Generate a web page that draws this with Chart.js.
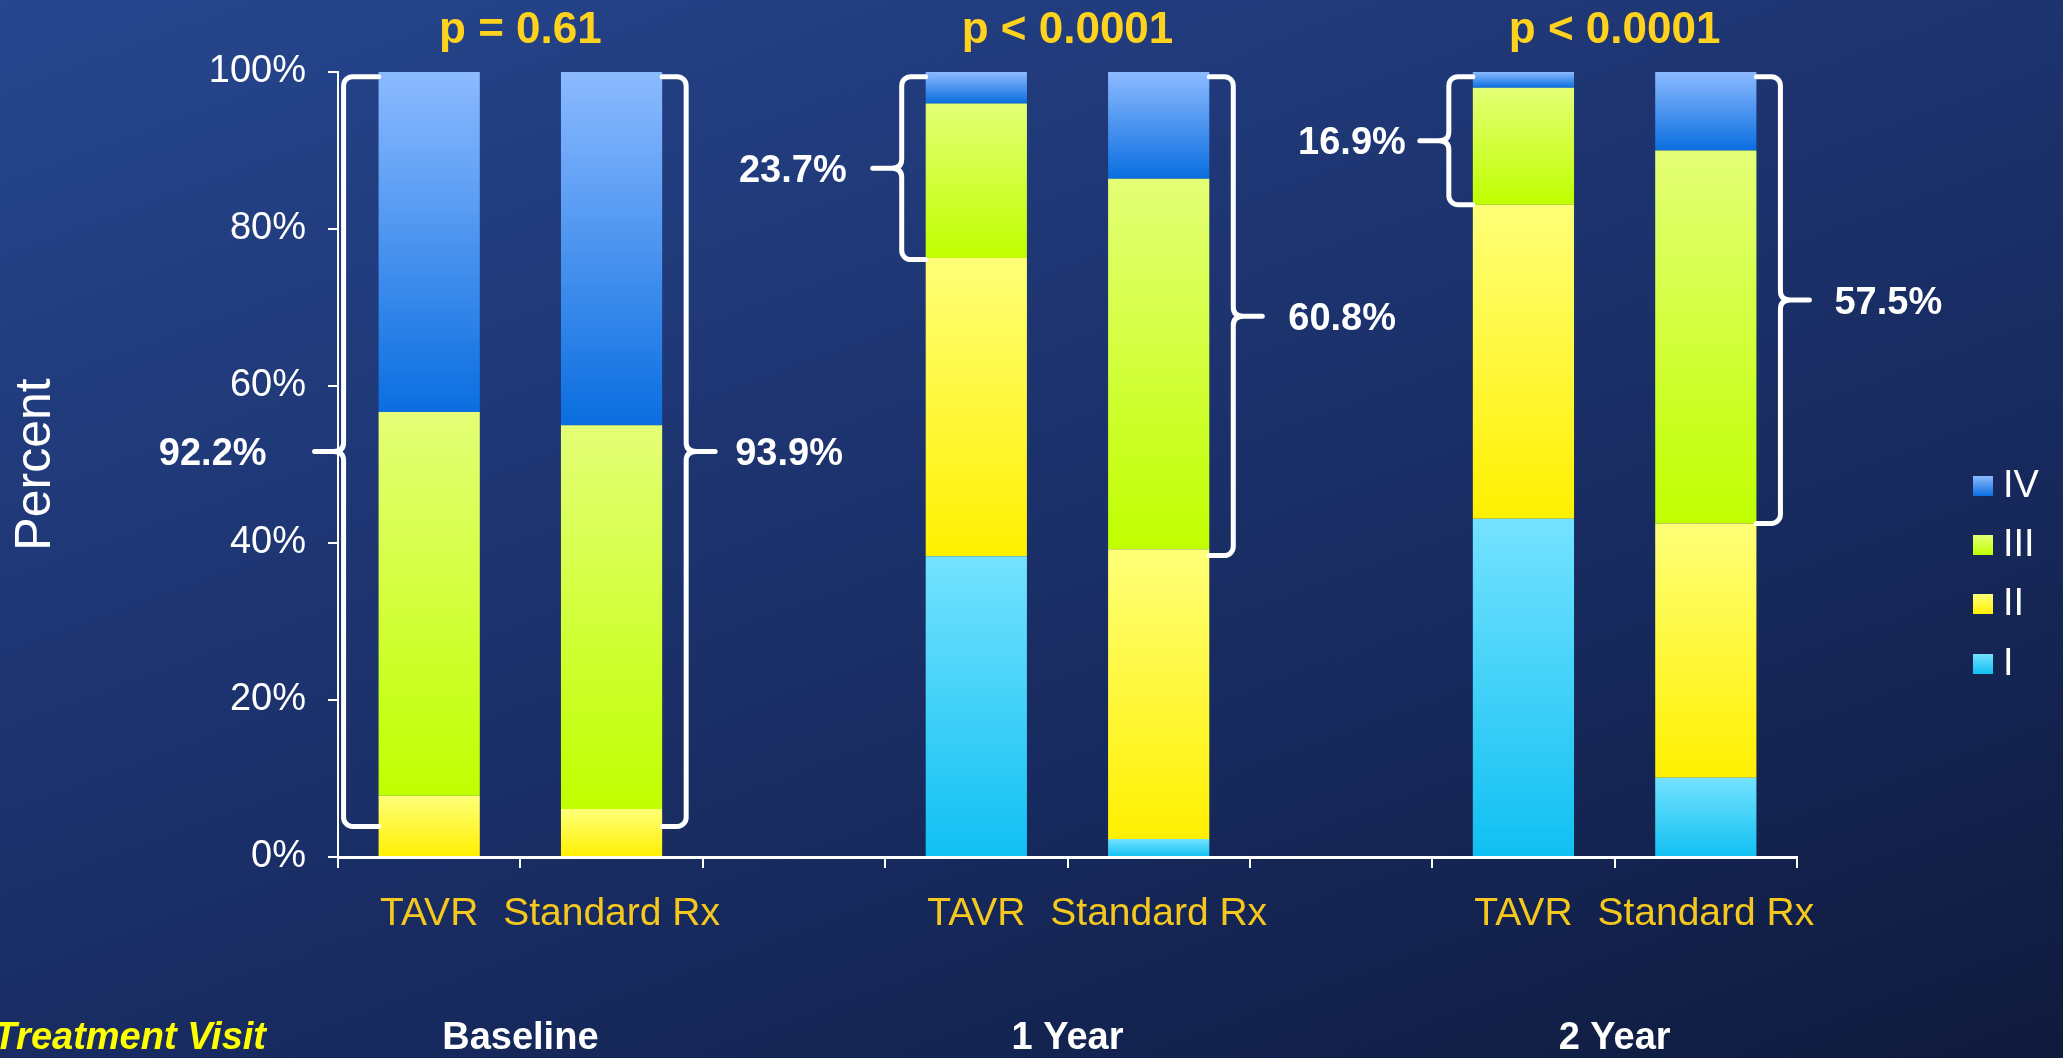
<!DOCTYPE html>
<html>
<head>
<meta charset="utf-8">
<script src="https://cdn.jsdelivr.net/npm/chart.js@4.4.1/dist/chart.umd.min.js"></script>
<style>
  html, body { margin: 0; padding: 0; }
  body {
    width: 2063px; height: 1058px; overflow: hidden;
    background: linear-gradient(160deg, #26478f 0%, #1e3572 38%, #172a5e 65%, #0f1a3c 100%);
  }
  canvas { display: block; }
</style>
</head>
<body>
<canvas id="nyha" width="2063" height="1058"></canvas>
<script>
// NYHA class distribution, TAVR vs standard therapy
const categories = ['TAVR', 'Standard Rx', '', 'TAVR', 'Standard Rx', '', 'TAVR', 'Standard Rx'];
const groups = ['Baseline', '1 Year', '2 Year'];
const pValues = ['p = 0.61', 'p < 0.0001', 'p < 0.0001'];
const classNames = ['I', 'II', 'III', 'IV'];

const classI   = [0,    0,    null, 38.3, 2.3,  null, 43.1, 10.1];
const classII  = [7.8,  6.1,  null, 38.0, 36.9, null, 40.0, 32.4];
const classIII = [48.9, 48.9, null, 19.7, 47.2, null, 14.9, 47.5];
const classIV  = [43.3, 45.0, null, 4.0,  13.6, null, 2.0,  10.0];

const percentTicks = [0, 20, 40, 60, 80, 100];

// top / bottom colour of each class gradient
const classColors = [
  ['#74e2ff', '#10c0f2'],
  ['#ffff78', '#fff000'],
  ['#e4ff76', '#c0ff00'],
  ['#8cbaff', '#0a6ee0']
];

// braces around class III+IV, one per bar
const braces = [
  { bar: 0, side: -1, low: 3.9,  high: 99.4, off: 35, gap: 48 },
  { bar: 1, side: 1,  low: 3.9,  high: 99.4, off: 24, gap: 20 },
  { bar: 3, side: -1, low: 76.1, high: 99.4, off: 24, gap: 26 },
  { bar: 4, side: 1,  low: 38.4, high: 99.4, off: 24, gap: 26 },
  { bar: 6, side: -1, low: 83.1, high: 99.4, off: 24, gap: 14 },
  { bar: 7, side: 1,  low: 42.5, high: 99.4, off: 24, gap: 25 }
];

const series = [classI, classII, classIII, classIV];
const SANS = "'Liberation Sans', Arial, sans-serif";

function segmentFill(ctx) {
  const chart = ctx.chart;
  const pair = classColors[ctx.datasetIndex];
  const y = chart.scales.y;
  if (!y || ctx.type !== 'data') return pair[1];
  let base = 0;
  for (let i = 0; i < ctx.datasetIndex; i++) base += series[i][ctx.dataIndex] || 0;
  const y0 = y.getPixelForValue(base);
  const y1 = y.getPixelForValue(base + (ctx.raw || 0));
  if (!isFinite(y0) || !isFinite(y1) || y0 === y1) return pair[1];
  const g = chart.ctx.createLinearGradient(0, y1, 0, y0);
  g.addColorStop(0, pair[0]);
  g.addColorStop(1, pair[1]);
  return g;
}

function drawBrace(c, xEdge, dir, yTop, yBot, off) {
  const r = 9, tip = 29;
  const xl = xEdge + dir * off;
  const ym = (yTop + yBot) / 2;
  c.beginPath();
  c.moveTo(xEdge, yTop);
  c.arcTo(xl, yTop, xl, yTop + r, r);
  c.lineTo(xl, ym - 9);
  c.quadraticCurveTo(xl, ym, xl + dir * 10, ym);
  c.lineTo(xl + dir * tip, ym);
  c.moveTo(xl + dir * 10, ym);
  c.quadraticCurveTo(xl, ym, xl, ym + 9);
  c.lineTo(xl, yBot - r);
  c.arcTo(xl, yBot, xEdge, yBot, r);
  c.lineTo(xEdge, yBot);
  c.stroke();
  return xl + dir * tip;
}

const extras = {
  id: 'extras',
  afterDatasetsDraw(chart) {
    const c = chart.ctx;
    const y = chart.scales.y;
    const bars = chart.getDatasetMeta(0).data;
    c.save();

    // braces with III+IV totals
    c.strokeStyle = '#ffffff';
    c.lineWidth = 5;
    c.lineCap = 'round';
    c.fillStyle = '#ffffff';
    c.font = 'bold 38px ' + SANS;
    c.textBaseline = 'middle';
    braces.forEach(b => {
      const bar = bars[b.bar];
      const xEdge = bar.x + b.side * bar.width / 2;
      const yTop = y.getPixelForValue(b.high);
      const yBot = y.getPixelForValue(b.low);
      const tipX = drawBrace(c, xEdge, b.side, yTop, yBot, b.off);
      const total = (classIII[b.bar] + classIV[b.bar]).toFixed(1) + '%';
      c.textAlign = b.side < 0 ? 'right' : 'left';
      c.fillText(total, tipX + b.side * b.gap, (yTop + yBot) / 2 + 3);
    });

    // p-values and visit names per pair of bars
    c.textAlign = 'center';
    groups.forEach((g, i) => {
      const cx = (bars[i * 3].x + bars[i * 3 + 1].x) / 2;
      c.fillStyle = '#ffd21e';
      c.font = 'bold 44px ' + SANS;
      c.fillText(pValues[i], cx, 31);
      c.fillStyle = '#ffffff';
      c.font = 'bold 38px ' + SANS;
      c.fillText(g, cx, 1039);
    });

    c.fillStyle = '#ffff00';
    c.font = 'italic bold 38px ' + SANS;
    c.textAlign = 'right';
    c.fillText('Treatment Visit', 266, 1039);

    // legend, highest class first
    c.font = '38px ' + SANS;
    c.textAlign = 'left';
    const legendY = [486, 545, 604, 664];
    for (let k = 3; k >= 0; k--) {
      const ly = legendY[3 - k];
      const g = c.createLinearGradient(0, ly - 10, 0, ly + 10);
      g.addColorStop(0, classColors[k][0]);
      g.addColorStop(1, classColors[k][1]);
      c.fillStyle = g;
      c.fillRect(1973, ly - 10, 20, 20);
      c.fillStyle = '#ffffff';
      c.fillText(classNames[k], 2003, ly + 1);
    }
    c.restore();
  }
};

new Chart(document.getElementById('nyha'), {
  type: 'bar',
  data: {
    labels: categories,
    datasets: series.map((d, i) => ({
      label: classNames[i],
      data: d,
      backgroundColor: segmentFill,
      borderWidth: 0,
      barPercentage: 0.555,
      categoryPercentage: 1
    }))
  },
  options: {
    responsive: false,
    animation: false,
    layout: { padding: { left: 0, right: 266, top: 72, bottom: 0 } },
    plugins: { legend: { display: false }, tooltip: { enabled: false } },
    scales: {
      x: {
        stacked: true,
        offset: true,
        afterFit(scale) { scale.height = 201; },
        border: { color: '#ffffff', width: 3 },
        grid: { offset: true, drawOnChartArea: false, drawTicks: true, tickLength: 11, color: '#ffffff', lineWidth: 2 },
        ticks: { color: '#f6c81e', font: { family: SANS, size: 39 }, padding: 23, autoSkip: false, maxRotation: 0 }
      },
      y: {
        stacked: true,
        min: 0,
        max: 100,
        afterFit(scale) { scale.width = 338; },
        afterBuildTicks(scale) { scale.ticks = percentTicks.map(v => ({ value: v })); },
        border: { color: '#ffffff', width: 2 },
        grid: { drawOnChartArea: false, drawTicks: true, tickLength: 10, color: '#ffffff', lineWidth: 2 },
        ticks: { color: '#ffffff', font: { family: SANS, size: 38 }, padding: 22, callback: v => v + '%' },
        title: { display: true, text: 'Percent', color: '#ffffff', font: { family: SANS, size: 50 }, padding: { top: 6, bottom: 0 } }
      }
    }
  },
  plugins: [extras]
});
</script>
</body>
</html>
